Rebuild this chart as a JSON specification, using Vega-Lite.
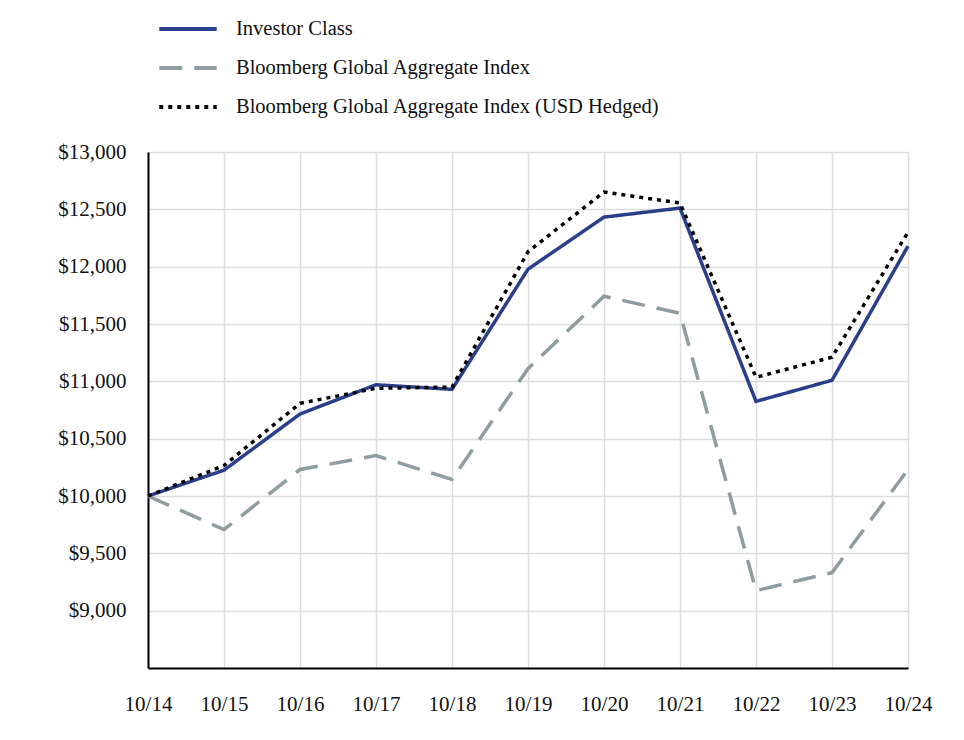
{
  "$schema": "https://vega.github.io/schema/vega-lite/v6.json",
  "width": 760,
  "height": 516,
  "autosize": {"type": "none"},
  "padding": {"left": 148, "top": 152, "right": 56, "bottom": 72},
  "background": "white",
  "config": {
    "font": "Liberation Serif",
    "view": {"stroke": null},
    "axis": {"labelFont": "Liberation Serif", "labelFontSize": 21, "labelColor": "#111", "gridColor": "#dddddd", "gridWidth": 1.5, "ticks": false, "domainColor": "#000", "domainWidth": 2, "title": null}
  },
  "data": {
    "values": [
      {"date": "10/14", "series": "Investor Class", "value": 10000},
      {"date": "10/15", "series": "Investor Class", "value": 10225},
      {"date": "10/16", "series": "Investor Class", "value": 10715},
      {"date": "10/17", "series": "Investor Class", "value": 10970},
      {"date": "10/18", "series": "Investor Class", "value": 10930},
      {"date": "10/19", "series": "Investor Class", "value": 11978},
      {"date": "10/20", "series": "Investor Class", "value": 12432},
      {"date": "10/21", "series": "Investor Class", "value": 12511},
      {"date": "10/22", "series": "Investor Class", "value": 10825},
      {"date": "10/23", "series": "Investor Class", "value": 11009},
      {"date": "10/24", "series": "Investor Class", "value": 12179},
      {"date": "10/14", "series": "Bloomberg Global Aggregate Index", "value": 10000},
      {"date": "10/15", "series": "Bloomberg Global Aggregate Index", "value": 9707},
      {"date": "10/16", "series": "Bloomberg Global Aggregate Index", "value": 10231},
      {"date": "10/17", "series": "Bloomberg Global Aggregate Index", "value": 10352},
      {"date": "10/18", "series": "Bloomberg Global Aggregate Index", "value": 10144},
      {"date": "10/19", "series": "Bloomberg Global Aggregate Index", "value": 11110},
      {"date": "10/20", "series": "Bloomberg Global Aggregate Index", "value": 11742},
      {"date": "10/21", "series": "Bloomberg Global Aggregate Index", "value": 11594},
      {"date": "10/22", "series": "Bloomberg Global Aggregate Index", "value": 9175},
      {"date": "10/23", "series": "Bloomberg Global Aggregate Index", "value": 9332},
      {"date": "10/24", "series": "Bloomberg Global Aggregate Index", "value": 10231},
      {"date": "10/14", "series": "Bloomberg Global Aggregate Index (USD Hedged)", "value": 10000},
      {"date": "10/15", "series": "Bloomberg Global Aggregate Index (USD Hedged)", "value": 10266},
      {"date": "10/16", "series": "Bloomberg Global Aggregate Index (USD Hedged)", "value": 10808},
      {"date": "10/17", "series": "Bloomberg Global Aggregate Index (USD Hedged)", "value": 10939},
      {"date": "10/18", "series": "Bloomberg Global Aggregate Index (USD Hedged)", "value": 10950},
      {"date": "10/19", "series": "Bloomberg Global Aggregate Index (USD Hedged)", "value": 12130},
      {"date": "10/20", "series": "Bloomberg Global Aggregate Index (USD Hedged)", "value": 12651},
      {"date": "10/21", "series": "Bloomberg Global Aggregate Index (USD Hedged)", "value": 12555},
      {"date": "10/22", "series": "Bloomberg Global Aggregate Index (USD Hedged)", "value": 11035},
      {"date": "10/23", "series": "Bloomberg Global Aggregate Index (USD Hedged)", "value": 11210},
      {"date": "10/24", "series": "Bloomberg Global Aggregate Index (USD Hedged)", "value": 12301}
    ]
  },
  "mark": {"type": "line", "strokeWidth": 3.5, "strokeCap": "butt"},
  "encoding": {
    "x": {
      "field": "date", "type": "ordinal", "sort": null,
      "scale": {"type": "point", "padding": 0},
      "axis": {"labelAngle": 0, "labelPadding": 25, "grid": true}
    },
    "y": {
      "field": "value", "type": "quantitative",
      "scale": {"domain": [8500, 13000], "nice": false, "zero": false},
      "axis": {"values": [9000, 9500, 10000, 10500, 11000, 11500, 12000, 12500, 13000], "format": "$,.0f", "labelPadding": 22, "grid": true}
    },
    "color": {
      "field": "series", "type": "nominal",
      "sort": ["Investor Class", "Bloomberg Global Aggregate Index", "Bloomberg Global Aggregate Index (USD Hedged)"],
      "scale": {"domain": ["Investor Class", "Bloomberg Global Aggregate Index", "Bloomberg Global Aggregate Index (USD Hedged)"], "range": ["#2a3f8a", "#8f9ca0", "#000000"]},
      "legend": {"orient": "none", "legendX": 9, "legendY": -133, "title": null, "symbolType": "stroke", "symbolSize": 3300, "symbolStrokeWidth": 4, "clipHeight": 20, "labelFont": "Liberation Serif", "labelFontSize": 20.5, "labelColor": "#111", "labelOffset": 17, "rowPadding": 18, "labelLimit": 600}
    },
    "strokeDash": {
      "field": "series", "type": "nominal",
      "sort": ["Investor Class", "Bloomberg Global Aggregate Index", "Bloomberg Global Aggregate Index (USD Hedged)"],
      "scale": {"domain": ["Investor Class", "Bloomberg Global Aggregate Index", "Bloomberg Global Aggregate Index (USD Hedged)"], "range": [[1, 0], [23, 12], [4, 5]]},
      "legend": {"orient": "none", "legendX": 9, "legendY": -133, "title": null, "symbolType": "stroke", "symbolSize": 3300, "symbolStrokeWidth": 4, "clipHeight": 20, "labelFont": "Liberation Serif", "labelFontSize": 20.5, "labelColor": "#111", "labelOffset": 17, "rowPadding": 18, "labelLimit": 600}
    }
  }
}
